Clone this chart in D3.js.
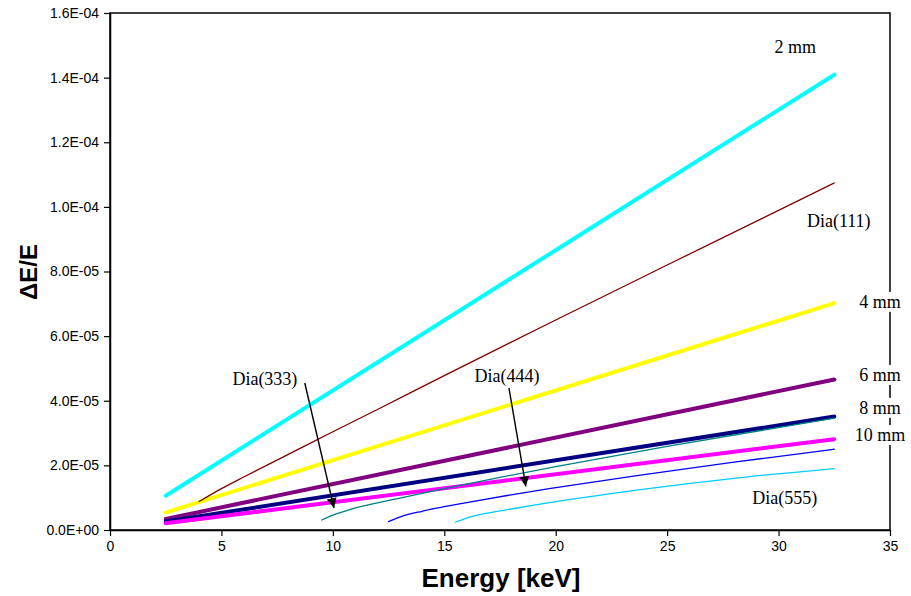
<!DOCTYPE html>
<html>
<head>
<meta charset="utf-8">
<script src="https://cdn.jsdelivr.net/npm/d3@7"></script>
<style>
  html, body { margin: 0; padding: 0; background: #fff; }
  svg { display: block; }
</style>
</head>
<body>
<svg id="chart" width="911" height="596"></svg>
<script>
// Energy resolution ΔE/E versus photon energy for several crystal sizes and diamond reflections

// Energy grid of the straight size lines
const mmEnergy = [2.5, 32.5];
const mm2  = [1.06e-5, 1.409e-4];
const mm4  = [5.4e-6, 7.02e-5];
const mm6  = [3.4e-6, 4.66e-5];
const mm8  = [2.6e-6, 3.51e-5];
const mm10 = [2.1e-6, 2.81e-5];

// Diamond reflections
const dia111Energy = [4, 5, 6, 8, 10, 12, 15, 20, 25, 32.5];
const dia111 = [8.8e-6, 12.8e-6, 16.4e-6, 23.4e-6, 30.4e-6, 37.3e-6, 47.8e-6, 65.0e-6, 82.0e-6, 107.4e-6];

const dia333Energy = [9.5, 10, 10.8, 12, 13, 15, 17.5, 20, 25, 32.5];
const dia333 = [3.1e-6, 4.6e-6, 6.4e-6, 8.4e-6, 9.9e-6, 12.8e-6, 16.3e-6, 19.6e-6, 25.9e-6, 34.6e-6];

const dia444Energy = [12.5, 13, 14, 15, 16, 18, 19.7, 23.8, 28, 32.5];
const dia444 = [2.6e-6, 4.0e-6, 5.8e-6, 7.2e-6, 8.5e-6, 10.9e-6, 12.8e-6, 17.0e-6, 21.0e-6, 25.0e-6];

const dia555Energy = [15.5, 16, 16.5, 17, 18, 19.3, 23.8, 28, 32.5];
const dia555 = [2.4e-6, 3.7e-6, 4.6e-6, 5.3e-6, 6.5e-6, 8.0e-6, 12.5e-6, 16.0e-6, 19.0e-6];

// Axis ticks
const xTicks = [0, 5, 10, 15, 20, 25, 30, 35];
const yTicks = [0, 2e-5, 4e-5, 6e-5, 8e-5, 1e-4, 1.2e-4, 1.4e-4, 1.6e-4];

const xTitle = "Energy [keV]";
const yTitle = "ΔE/E";

// Series: name, x array, y array, colour, width
const series = [
  { name: "2 mm",     x: mmEnergy,     y: mm2,    color: "#00FFFF", w: 4 },
  { name: "4 mm",     x: mmEnergy,     y: mm4,    color: "#FFFF00", w: 4 },
  { name: "6 mm",     x: mmEnergy,     y: mm6,    color: "#800080", w: 4 },
  { name: "8 mm",     x: mmEnergy,     y: mm8,    color: "#000080", w: 4 },
  { name: "10 mm",    x: mmEnergy,     y: mm10,   color: "#FF00FF", w: 4 },
  { name: "Dia(111)", x: dia111Energy, y: dia111, color: "#800000", w: 1.3 },
  { name: "Dia(333)", x: dia333Energy, y: dia333, color: "#008080", w: 1.3 },
  { name: "Dia(444)", x: dia444Energy, y: dia444, color: "#0000FF", w: 1.3 },
  { name: "Dia(555)", x: dia555Energy, y: dia555, color: "#00CCFF", w: 1.3 }
];

// Text annotations placed in data units (centre of text)
const labels = [
  { text: "2 mm",     e: 30.75, v: 1.495e-4 },
  { text: "Dia(111)", e: 32.7,  v: 9.56e-5 },
  { text: "4 mm",     e: 34.55, v: 7.06e-5 },
  { text: "6 mm",     e: 34.55, v: 4.80e-5 },
  { text: "8 mm",     e: 34.55, v: 3.78e-5 },
  { text: "10 mm",    e: 34.55, v: 2.94e-5 },
  { text: "Dia(555)", e: 30.28, v: 9.9e-6 },
  { text: "Dia(333)", e: 6.95,  v: 4.67e-5 },
  { text: "Dia(444)", e: 17.81, v: 4.77e-5 }
];

// Arrows from label to curve, data units
const arrows = [
  { e0: 8.74, v0: 4.55e-5, e1: 10.05, v1: 0.68e-5 },
  { e0: 17.9, v0: 4.4e-5,  e1: 18.66, v1: 1.35e-5 }
];

const svg = d3.select("#chart");
const x = d3.scaleLinear().domain([0, 35]).range([110, 890]);
const y = d3.scaleLinear().domain([0, 1.6e-4]).range([530, 13]);

const fmt = v => {
  if (v === 0) return "0.0E+00";
  const exp = Math.floor(Math.log10(Math.abs(v)) + 1e-9);
  const mant = v / Math.pow(10, exp);
  const sign = exp < 0 ? "-" : "+";
  return mant.toFixed(1) + "E" + sign + String(Math.abs(exp)).padStart(2, "0");
};

// Plot frame
svg.append("rect")
  .attr("x", x(0)).attr("y", y(1.6e-4))
  .attr("width", x(35) - x(0)).attr("height", y(0) - y(1.6e-4))
  .attr("fill", "none").attr("stroke", "#000").attr("stroke-width", 1.5);

// Axes
const xAxis = d3.axisBottom(x).tickValues(xTicks).tickSize(6).tickSizeOuter(0).tickFormat(d3.format("d"));
const yAxis = d3.axisLeft(y).tickValues(yTicks).tickSize(6).tickSizeOuter(0).tickFormat(fmt);

const gx = svg.append("g").attr("transform", `translate(0,${y(0)})`).call(xAxis);
const gy = svg.append("g").attr("transform", `translate(${x(0)},0)`).call(yAxis);
[gx, gy].forEach(g => {
  g.select(".domain").attr("stroke", "#000").attr("stroke-width", 1.5);
  g.selectAll(".tick line").attr("stroke", "#000").attr("stroke-width", 1.2);
  g.selectAll(".tick text")
    .attr("fill", "#000")
    .style("font-family", "'Liberation Sans', Arial, sans-serif")
    .style("font-size", "14px");
});
gx.selectAll(".tick text").attr("dy", "1.1em").attr("y", 6);
gy.selectAll(".tick text").attr("x", -11);

// Lines
const line = d3.line().x(d => x(d[0])).y(d => y(d[1])).curve(d3.curveMonotoneX);
svg.append("g").selectAll("path")
  .data(series)
  .join("path")
  .attr("d", s => line(s.x.map((e, i) => [e, s.y[i]])))
  .attr("fill", "none")
  .attr("stroke", s => s.color)
  .attr("stroke-width", s => s.w)
  .attr("stroke-linecap", "round")
  .attr("stroke-linejoin", "round");

// Arrowhead marker
svg.append("defs").append("marker")
  .attr("id", "arrowhead")
  .attr("viewBox", "0 0 10 10")
  .attr("refX", 10).attr("refY", 5)
  .attr("markerWidth", 10).attr("markerHeight", 10)
  .attr("markerUnits", "userSpaceOnUse")
  .attr("orient", "auto")
  .append("path").attr("d", "M0,0 L10,5 L0,10 Z").attr("fill", "#000");

svg.append("g").selectAll("line")
  .data(arrows)
  .join("line")
  .attr("x1", a => x(a.e0)).attr("y1", a => y(a.v0))
  .attr("x2", a => x(a.e1)).attr("y2", a => y(a.v1))
  .attr("stroke", "#000").attr("stroke-width", 1.4)
  .attr("marker-end", "url(#arrowhead)");

// Annotation labels with white backing
const lg = svg.append("g");
labels.forEach(l => {
  const g = lg.append("g");
  const t = g.append("text")
    .attr("x", x(l.e)).attr("y", y(l.v))
    .attr("text-anchor", "middle")
    .attr("dominant-baseline", "central")
    .style("font-family", "'Liberation Serif', 'Times New Roman', serif")
    .style("font-size", "18px")
    .attr("fill", "#000")
    .text(l.text);
  const b = t.node().getBBox();
  g.insert("rect", "text")
    .attr("x", b.x - 2).attr("y", b.y)
    .attr("width", b.width + 4).attr("height", b.height)
    .attr("fill", "#fff");
});

// Axis titles
svg.append("text")
  .attr("x", 501).attr("y", 578)
  .attr("text-anchor", "middle").attr("dominant-baseline", "central")
  .style("font-family", "'Liberation Sans', Arial, sans-serif")
  .style("font-size", "26px").style("font-weight", "bold")
  .text(xTitle);

svg.append("text")
  .attr("transform", "translate(28,272) rotate(-90)")
  .attr("text-anchor", "middle").attr("dominant-baseline", "central")
  .style("font-family", "'Liberation Sans', Arial, sans-serif")
  .style("font-size", "24px").style("font-weight", "bold")
  .text(yTitle);
</script>
</body>
</html>
